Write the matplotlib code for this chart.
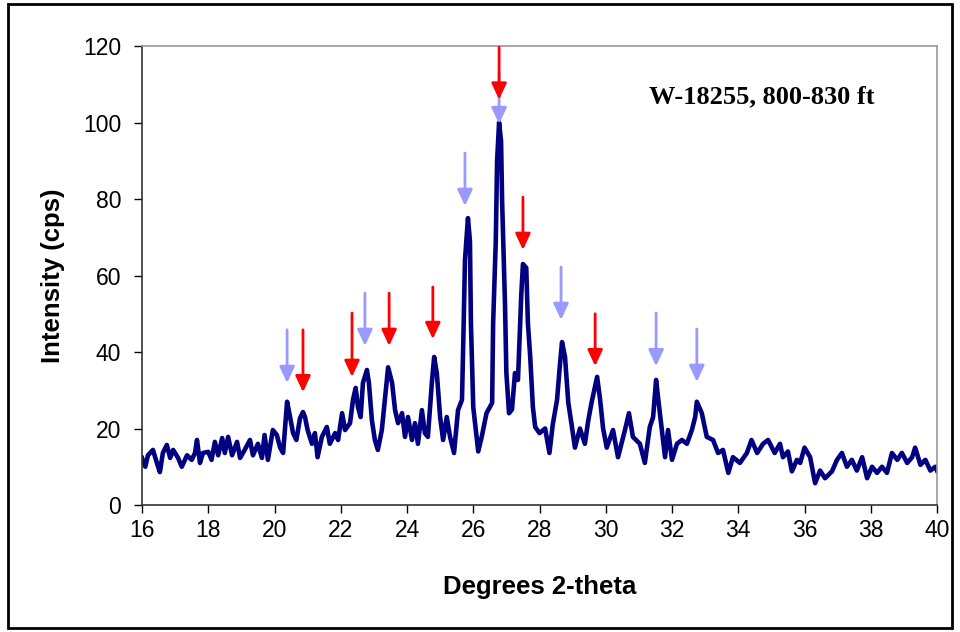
import matplotlib
matplotlib.use('Agg')
import matplotlib.pyplot as plt
from matplotlib.patches import Rectangle

plt.rcParams['font.family'] = ['Liberation Sans', 'DejaVu Sans']

# XRD scan
two_theta = [16.0, 16.1, 16.18, 16.33, 16.45, 16.54, 16.63, 16.75, 16.85, 16.94,
             17.09, 17.2, 17.36, 17.5, 17.6, 17.66, 17.75, 17.84, 18.0, 18.1,
             18.2, 18.3, 18.42, 18.5, 18.6, 18.72, 18.87, 18.96, 19.1, 19.26,
             19.35, 19.5, 19.62, 19.7, 19.8, 19.95, 20.07, 20.17, 20.26, 20.38,
             20.47, 20.56, 20.66, 20.77, 20.86, 20.92, 21.0, 21.13, 21.22, 21.3,
             21.43, 21.58, 21.67, 21.83, 21.92, 22.04, 22.13, 22.28, 22.37, 22.45,
             22.52, 22.6, 22.67, 22.79, 22.85, 22.94, 23.03, 23.12, 23.24, 23.34,
             23.43, 23.55, 23.64, 23.73, 23.85, 23.94, 24.03, 24.15, 24.24, 24.33,
             24.45, 24.54, 24.63, 24.75, 24.82, 24.9, 25.0, 25.09, 25.2, 25.3,
             25.42, 25.54, 25.66, 25.7, 25.75, 25.84, 25.9, 25.93, 26.0, 26.1,
             26.15, 26.26, 26.4, 26.57, 26.6, 26.68, 26.72, 26.78, 26.84, 26.87,
             26.96, 27.0, 27.08, 27.17, 27.26, 27.35, 27.45, 27.5, 27.6, 27.65,
             27.72, 27.8, 27.87, 28.0, 28.17, 28.3, 28.4, 28.53, 28.62, 28.68,
             28.77, 28.87, 28.98, 29.07, 29.22, 29.37, 29.47, 29.57, 29.74, 29.83,
             29.92, 30.03, 30.22, 30.37, 30.58, 30.7, 30.82, 31.03, 31.18, 31.33,
             31.43, 31.52, 31.58, 31.7, 31.79, 31.88, 32.0, 32.15, 32.3, 32.45,
             32.6, 32.7, 32.75, 32.9, 33.05, 33.24, 33.39, 33.54, 33.7, 33.84,
             34.05, 34.26, 34.4, 34.57, 34.75, 34.9, 35.1, 35.26, 35.35, 35.5,
             35.62, 35.77, 35.87, 36.0, 36.17, 36.32, 36.47, 36.62, 36.83, 36.98,
             37.13, 37.28, 37.43, 37.58, 37.74, 37.89, 38.04, 38.19, 38.34, 38.49,
             38.64, 38.8, 38.94, 39.1, 39.25, 39.34, 39.5, 39.65, 39.8, 39.95, 40.0]
intensity = [12.3, 10, 13, 14.4, 11, 8.6, 13.6, 15.7, 12.3, 14.4,
             12.3, 10, 13, 11.8, 13.6, 17, 11, 13.6, 13.9, 11.8,
             16.5, 13, 17.5, 13.6, 17.8, 13, 16.5, 12.3, 14.4, 17,
             13, 16, 12.3, 18.3, 11.8, 19.6, 18.3, 15, 13.6, 27,
             23, 18.8, 17, 22.7, 24.3, 23, 19.6, 16, 18.8, 12.5,
             17.8, 20.4, 16, 18.8, 17, 24, 19.6, 21.4, 27.5, 30.6,
             25.6, 23, 31.9, 35.3, 31.9, 22.2, 17, 14.4, 19.6, 28.2,
             36, 31.9, 24.8, 21.4, 24, 17.8, 23, 17, 21.4, 16,
             24.8, 18.8, 17.8, 31.9, 38.7, 34.5, 23, 17, 23, 17.8,
             13.6, 24.8, 27.5, 43, 64, 75, 69, 47.5, 25.6, 18,
             14, 18, 24, 26.7, 47.5, 69, 90, 100, 95, 80,
             52, 34.5, 24, 25, 34.5, 32.7, 55, 63, 62, 47.5,
             38.7, 25.6, 20.4, 18.8, 20, 13.6, 21, 27.5, 37, 42.6,
             38.7, 26.7, 20.4, 15, 20, 16, 22, 26.7, 33.5, 27.5,
             20, 15, 19.6, 12.5, 19.6, 24, 17.8, 16, 11, 20.4,
             23, 32.7, 28, 19, 12.5, 19.6, 11.8, 16, 17, 16,
             19.6, 23, 27, 24, 17.8, 17, 13.6, 14.4, 8.4, 12.5,
             11, 13.6, 17, 13.6, 16, 17, 13.6, 16, 12.5, 14,
             8.8, 11.8, 11, 15, 12.5, 5.7, 9, 7, 8.8, 11.8,
             13.6, 10, 11.8, 9, 12.5, 7, 10, 8.4, 10, 8.4,
             13.6, 11.8, 13.6, 11, 12.5, 15, 10.5, 11.8, 9, 10, 9]

# arrows: position, tail value, tip value
red_x = [20.86, 22.34, 23.46, 24.78, 26.78, 27.5, 29.68]
red_tail = [45.8, 50.2, 55.4, 57.0, 119.7, 80.5, 50.0]
red_tip = [29.5, 33.5, 41.6, 43.4, 106.0, 66.7, 36.3]

blue_x = [20.38, 22.73, 25.75, 26.78, 28.65, 31.52, 32.75]
blue_tail = [45.8, 55.4, 92.0, 113.2, 62.2, 50.2, 46.0]
blue_tip = [31.9, 41.6, 78.2, 99.6, 48.4, 36.3, 32.2]

fig = plt.figure(figsize=(9.6, 6.32), dpi=100)
ax = fig.add_axes([142/960, 1-505/632, 795/960, 459/632])

ax.plot(two_theta, intensity, color='#000080', lw=3.3, solid_joinstyle='round')

def draw_arrows(xs, tails, tips, col):
    for x, t0, t1 in zip(xs, tails, tips):
        ax.annotate('', xy=(x, t1), xytext=(x, t0),
                    arrowprops=dict(arrowstyle='-|>,head_width=0.35,head_length=0.75',
                                    color=col, lw=2, shrinkA=0, shrinkB=0,
                                    mutation_scale=13))

draw_arrows(blue_x, blue_tail, blue_tip, '#9999FF')
draw_arrows(red_x, red_tail, red_tip, '#FF0000')

ax.set_xlim(16, 40)
ax.set_ylim(0, 120)
ax.set_xticks(range(16, 41, 2))
ax.set_yticks(range(0, 121, 20))
ax.tick_params(direction='out', length=6, width=1, labelsize=16.5)
ax.tick_params(axis='x', pad=4)
ax.tick_params(axis='y', pad=9)
for side in ['top', 'right']:
    ax.spines[side].set_color('#999999')
    ax.spines[side].set_linewidth(1.2)
for side in ['left', 'bottom']:
    ax.spines[side].set_color('#333333')
    ax.spines[side].set_linewidth(1.2)

ax.set_xlabel('Degrees 2-theta', fontsize=18.5, fontweight='bold', labelpad=24)
ax.set_ylabel('Intensity (cps)', fontsize=18.5, fontweight='bold', labelpad=13)

ax.text(0.78, 0.889, 'W-18255, 800-830 ft', transform=ax.transAxes,
        ha='center', va='center', fontsize=19, fontweight='bold',
        family=['Liberation Serif', 'DejaVu Serif'])

fig.patches.append(Rectangle((8/960, 4/632), 944/960, 624/632, transform=fig.transFigure,
                             fill=False, edgecolor='black', lw=2))

fig.savefig('out.png', dpi=100)
